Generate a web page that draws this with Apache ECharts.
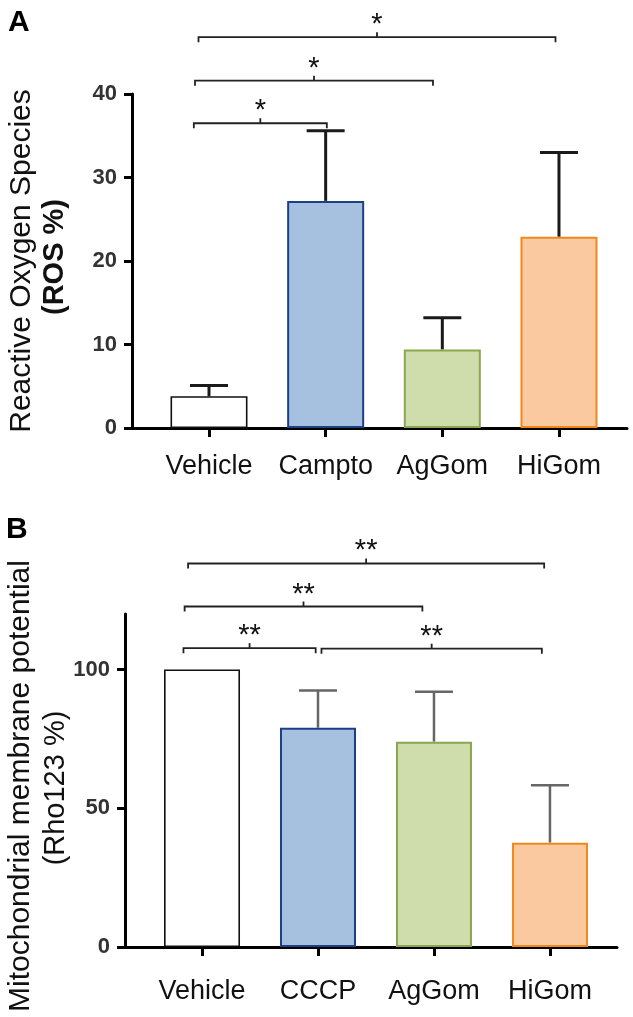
<!DOCTYPE html>
<html>
<head>
<meta charset="utf-8">
<script src="https://cdn.jsdelivr.net/npm/echarts@6/dist/echarts.min.js"></script>
<style>
  html, body { margin: 0; background: #fff; }
  #chart { width: 633px; height: 1017px; }
</style>
</head>
<body>
<div id="chart"></div>
<script>
// panel A - reactive oxygen species
const rosGroups = ['Vehicle', 'Campto', 'AgGom', 'HiGom'];
const rosMean = [3.8, 27.2, 9.4, 22.9];
const rosErr = [1.3, 8.4, 3.8, 10.1];
const rosTicks = [0, 10, 20, 30, 40];
// brackets: from, to (category position), height (data units), mark
const rosBrFrom = [-0.13, -0.12, -0.09];
const rosBrTo = [1.01, 1.92, 2.97];
const rosBrLevel = [36.5, 41.6, 46.8];
const rosBrMark = ['*', '*', '*'];

// panel B - mitochondrial membrane potential
const rhoGroups = ['Vehicle', 'CCCP', 'AgGom', 'HiGom'];
const rhoMean = [100, 79, 74, 37.6];
const rhoErr = [0, 13.4, 18, 20.7];
const rhoTicks = [0, 50, 100];
const rhoBrFrom = [-0.16, 1.03, -0.15, -0.12];
const rhoBrTo = [0.98, 2.93, 1.9, 2.95];
const rhoBrLevel = [107.7, 107.5, 122.7, 138.2];
const rhoBrMark = ['**', '**', '**', '**'];

const fills = ['#ffffff', '#a6c0df', '#cfdcab', '#fbc9a0'];
const borders = ['#111111', '#1d3f86', '#8aa64e', '#f0881c'];
const FONT = '"Liberation Sans", Arial, Helvetica, sans-serif';

const chart = echarts.init(document.getElementById('chart'));

function barData(means) {
  return means.map((v, i) => ({
    value: [i, v],
    itemStyle: { color: fills[i], borderColor: borders[i], borderWidth: i === 0 ? 1.6 : 2 }
  }));
}

function errorSeries(axisIdx, means, errs, color, width) {
  return {
    type: 'custom',
    xAxisIndex: axisIdx,
    yAxisIndex: axisIdx,
    clip: false,
    z: 1,
    data: means.map((v, i) => [i, v, v + errs[i]]),
    renderItem: (params, api) => {
      if (api.value(2) <= api.value(1)) return null;
      const lo = api.coord([api.value(0), api.value(1)]);
      const hi = api.coord([api.value(0), api.value(2)]);
      const st = { stroke: color, lineWidth: width };
      return {
        type: 'group',
        children: [
          { type: 'line', shape: { x1: lo[0], y1: lo[1], x2: hi[0], y2: hi[1] }, style: st },
          { type: 'line', shape: { x1: hi[0] - 19, y1: hi[1], x2: hi[0] + 19, y2: hi[1] }, style: st }
        ]
      };
    }
  };
}

function bracketSeries(axisIdx, from, to, level, marks) {
  return {
    type: 'custom',
    xAxisIndex: axisIdx,
    yAxisIndex: axisIdx,
    clip: false,
    data: from.map((f, i) => [f, to[i], level[i]]),
    renderItem: (params, api) => {
      const a = api.coord([api.value(0), api.value(2)]);
      const b = api.coord([api.value(1), api.value(2)]);
      const mid = (a[0] + b[0]) / 2;
      const st = { stroke: '#222', lineWidth: 1.8, fill: null };
      return {
        type: 'group',
        children: [
          { type: 'polyline', shape: { points: [[a[0], a[1] + 5], [a[0], a[1]], [b[0], b[1]], [b[0], b[1] + 5]] }, style: st },
          { type: 'line', shape: { x1: mid, y1: a[1], x2: mid, y2: a[1] - 5 }, style: st },
          {
            type: 'text',
            style: {
              text: marks[params.dataIndex], x: mid, y: a[1] - 12,
              fill: '#111', fontSize: 29, fontFamily: FONT,
              align: 'center', verticalAlign: 'middle'
            }
          }
        ]
      };
    }
  };
}

function xAxisFor(gridIdx, groups, min, max, margin) {
  return {
    type: 'value',
    gridIndex: gridIdx,
    min: min,
    max: max,
    splitLine: { show: false },
    axisLine: { show: true, onZero: false, lineStyle: { color: '#000', width: 3 } },
    axisTick: { show: true, customValues: [0, 1, 2, 3], length: 9, lineStyle: { color: '#000', width: 3 } },
    axisLabel: {
      customValues: [0, 1, 2, 3],
      formatter: (v) => groups[Math.round(v)],
      margin: margin,
      color: '#111',
      fontSize: 27,
      fontFamily: FONT
    }
  };
}

function yAxisFor(gridIdx, ticks, max) {
  return {
    type: 'value',
    gridIndex: gridIdx,
    min: 0,
    max: max,
    splitLine: { show: false },
    axisLine: { show: true, onZero: false, lineStyle: { color: '#000', width: 3 } },
    axisTick: { show: true, customValues: ticks, length: 8, lineStyle: { color: '#000', width: 3 } },
    axisLabel: {
      customValues: ticks,
      margin: 15,
      color: '#333',
      fontSize: 22,
      fontWeight: 'bold',
      fontFamily: FONT
    }
  };
}

const option = {
  animation: false,
  grid: [
    { left: 132, top: 94, width: 495, height: 334 },
    { left: 125, top: 614, width: 492, height: 333 }
  ],
  xAxis: [
    xAxisFor(0, rosGroups, -0.66, 3.583, 25),
    xAxisFor(1, rhoGroups, -0.664, 3.578, 31)
  ],
  yAxis: [
    yAxisFor(0, rosTicks, 40),
    yAxisFor(1, rhoTicks, 120)
  ],
  graphic: [
    { type: 'text', left: 8, top: 8, style: { text: 'A', fill: '#000', font: 'bold 30px ' + FONT } },
    { type: 'text', left: 6, top: 515, style: { text: 'B', fill: '#000', font: 'bold 30px ' + FONT } },
    {
      type: 'text', x: 22, y: 261, rotation: Math.PI / 2,
      style: { text: 'Reactive Oxygen Species', fill: '#111', font: '30px ' + FONT, align: 'center', verticalAlign: 'middle' }
    },
    {
      type: 'text', x: 55, y: 257, rotation: Math.PI / 2,
      style: { text: '(ROS %)', fill: '#111', font: 'bold 29px ' + FONT, align: 'center', verticalAlign: 'middle' }
    },
    {
      type: 'text', x: 21, y: 786, rotation: Math.PI / 2,
      style: { text: 'Mitochondrial membrane potential', fill: '#111', font: '30px ' + FONT, align: 'center', verticalAlign: 'middle' }
    },
    {
      type: 'text', x: 56, y: 788, rotation: Math.PI / 2,
      style: { text: '(Rho123 %)', fill: '#111', font: '29px ' + FONT, align: 'center', verticalAlign: 'middle' }
    }
  ],
  series: [
    errorSeries(0, rosMean, rosErr, '#1a1a1a', 3),
    {
      type: 'bar', xAxisIndex: 0, yAxisIndex: 0, barWidth: 77, z: 2,
      data: barData(rosMean)
    },
    bracketSeries(0, rosBrFrom, rosBrTo, rosBrLevel, rosBrMark),
    errorSeries(1, rhoMean, rhoErr, '#666', 2.5),
    {
      type: 'bar', xAxisIndex: 1, yAxisIndex: 1, barWidth: 76, z: 2,
      data: barData(rhoMean)
    },
    bracketSeries(1, rhoBrFrom, rhoBrTo, rhoBrLevel, rhoBrMark)
  ]
};

chart.setOption(option);
</script>
</body>
</html>
